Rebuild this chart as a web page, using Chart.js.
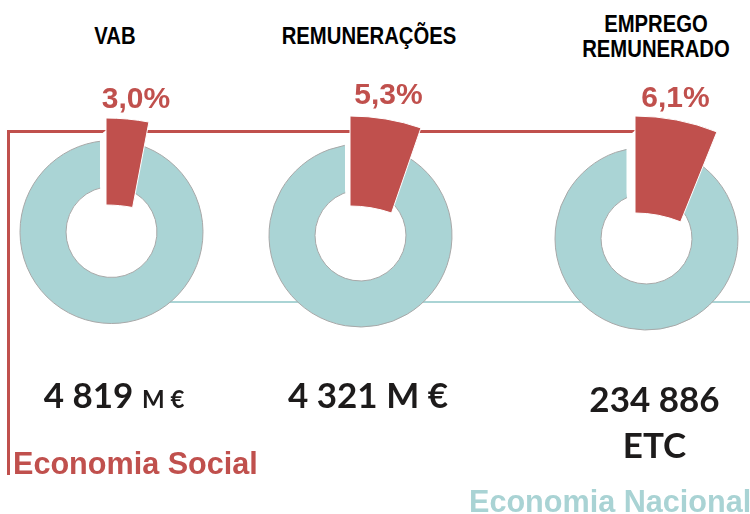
<!DOCTYPE html>
<html><head><meta charset="utf-8">
<script src="https://cdn.jsdelivr.net/npm/chart.js@4"></script>
<style>
html,body{margin:0;padding:0;background:#fff;}
body{width:750px;height:514px;position:relative;overflow:hidden;}
.txt{position:absolute;white-space:nowrap;}
.ln{position:absolute;}
</style></head><body>
<script>
// ---------------- data ----------------
const categories = ['VAB', 'REMUNERAÇÕES', 'EMPREGO\nREMUNERADO'];
const socialShare = [3.0, 5.3, 6.1];            // % Economia Social in Economia Nacional
const totalValues = ['4 819', '4 321', '234 886'];
const totalUnits = ['M €', 'M €', 'ETC'];
const seriesNames = ['Economia Social', 'Economia Nacional'];

// ---------------- style / layout ----------------
const RED = '#C0504D', TEAL = '#AAD4D5', TEAL_TXT = '#A9D3D4', RING_EDGE = '#A8A8A8';
const layout = [
  {cx:111.5, cy:232,   R:91.5, cut:'49.7%', gap:11.5, red:{x:106, y:347, R:229, r:142},
   title:{x:115, base:[44]}, pct:{x:136, base:108}, val:{x:114, base:[408], unitSize:24}},
  {cx:360.5, cy:235.5, R:91.5, cut:'49.7%', gap:15.5, red:{x:350, y:333, R:217, r:127},
   title:{x:369, base:[44]}, pct:{x:388.5, base:104}, val:{x:368, base:[408], unitSize:35}},
  {cx:646.5, cy:238.5, R:91.5, cut:'49.7%', gap:20, red:{x:635, y:335, R:219, r:122},
   title:{x:656, base:[32, 57.5]}, pct:{x:675.5, base:107}, val:{x:654.5, base:[412, 458], unitSize:35}}
];

const mctx = document.createElement('canvas').getContext('2d');
function topFor(font, size, baseline) {
  mctx.font = font;
  const m = mctx.measureText('Hg');
  const asc = m.fontBoundingBoxAscent, desc = m.fontBoundingBoxDescent;
  return baseline - ((size - asc - desc) / 2 + asc);
}
function addText(html, o) {
  const d = document.createElement('div');
  d.className = 'txt';
  const font = `${o.weight || 'bold'} ${o.size}px ${o.family}`;
  d.style.font = font;
  d.style.lineHeight = o.size + 'px';
  d.style.color = o.color;
  d.style.zIndex = 5;
  d.style.top = topFor(font, o.size, o.base) + 'px';
  if (o.align === 'left') {
    d.style.left = o.x + 'px';
  } else {
    d.style.left = (o.x - 250) + 'px';
    d.style.width = '500px';
    d.style.textAlign = 'center';
  }
  if (o.sx) { d.style.transform = `scaleX(${o.sx})`; d.style.transformOrigin = '50% 50%'; }
  d.innerHTML = html;
  document.body.appendChild(d);
  return d;
}
function addLine(l, t, w, h, c) {
  const d = document.createElement('div');
  d.className = 'ln';
  d.style.cssText += `left:${l}px;top:${t}px;width:${w}px;height:${h}px;background:${c};z-index:0;`;
  document.body.appendChild(d);
}
function makeCanvas(cx, cy, half, z) {
  const L = Math.floor(cx - half), T = Math.floor(cy - half);
  const W = Math.round(2 * (cx - L)), H = Math.round(2 * (cy - T));
  const c = document.createElement('canvas');
  c.width = W; c.height = H;
  c.style.cssText = `position:absolute;left:${L}px;top:${T}px;width:${W}px;height:${H}px;z-index:${z};`;
  document.body.appendChild(c);
  return c;
}
const baseOpts = {
  responsive: false, animation: false, events: [],
  layout: { padding: 0 },
  plugins: { legend: { display: false }, tooltip: { enabled: false }, title: { display: false } }
};

// connector lines
addLine(7, 130, 2.5, 345, RED);
addLine(7, 130, 628, 2.5, RED);
addLine(150, 300.5, 600, 2.5, TEAL);

const fam = '"Liberation Sans", Arial, sans-serif';
const famVal = 'Lato, "Open Sans", sans-serif';

socialShare.forEach((p, i) => {
  const g = layout[i];
  // Economia Nacional ring (rest) + gap where the social slice sits
  const c1 = makeCanvas(g.cx, g.cy, 130, 1);
  new Chart(c1, {
    type: 'doughnut',
    data: {
      labels: [seriesNames[1], seriesNames[0]],
      datasets: [{
        data: [100 - p, p],
        backgroundColor: [TEAL, 'rgba(255,255,255,0)'],
        borderColor: [RING_EDGE, '#ffffff'],
        borderWidth: [1, 2 * g.gap],
        borderAlign: 'center',
        borderJoinStyle: 'round'
      }]
    },
    options: Object.assign({}, baseOpts, { radius: g.R, cutout: g.cut, rotation: p * 3.6 })
  });
  // Economia Social slice (exploded, larger)
  const rr = g.red;
  const c2 = makeCanvas(rr.x, rr.y, rr.R + 4, 2);
  new Chart(c2, {
    type: 'doughnut',
    data: {
      labels: [seriesNames[0], seriesNames[1]],
      datasets: [{
        data: [p, 100 - p],
        backgroundColor: [RED, 'rgba(0,0,0,0)'],
        borderColor: ['#ffffff', 'rgba(0,0,0,0)'],
        borderWidth: [1, 0]
      }]
    },
    options: Object.assign({}, baseOpts, { radius: rr.R, cutout: (rr.r / rr.R * 100) + '%', rotation: 0 })
  });

  // titles
  categories[i].split('\n').forEach((t, k) => {
    addText(t, {x: g.title.x, base: g.title.base[k], size: 24, family: fam, color: '#000', sx: 0.845});
  });
  // percentage
  addText(p.toFixed(1).replace('.', ',') + '%', {x: g.pct.x, base: g.pct.base, size: 30, family: fam, color: RED});
  // totals
  if (g.val.base.length === 1) {
    addText(`${totalValues[i]} <span style="font-size:${g.val.unitSize}px">${totalUnits[i]}</span>`,
      {x: g.val.x, base: g.val.base[0], size: 35, family: famVal, color: '#1d1b1b'});
  } else {
    addText(totalValues[i], {x: g.val.x, base: g.val.base[0], size: 35, family: famVal, color: '#1d1b1b'});
    addText(totalUnits[i], {x: g.val.x, base: g.val.base[1], size: 35, family: famVal, color: '#1d1b1b'});
  }
});

// series labels
addText(seriesNames[0], {x: 13, base: 474, size: 30.6, family: fam, color: RED, align: 'left'});
addText(seriesNames[1], {x: 469, base: 512, size: 30.6, family: fam, color: TEAL_TXT, align: 'left'});
</script>
</body></html>
